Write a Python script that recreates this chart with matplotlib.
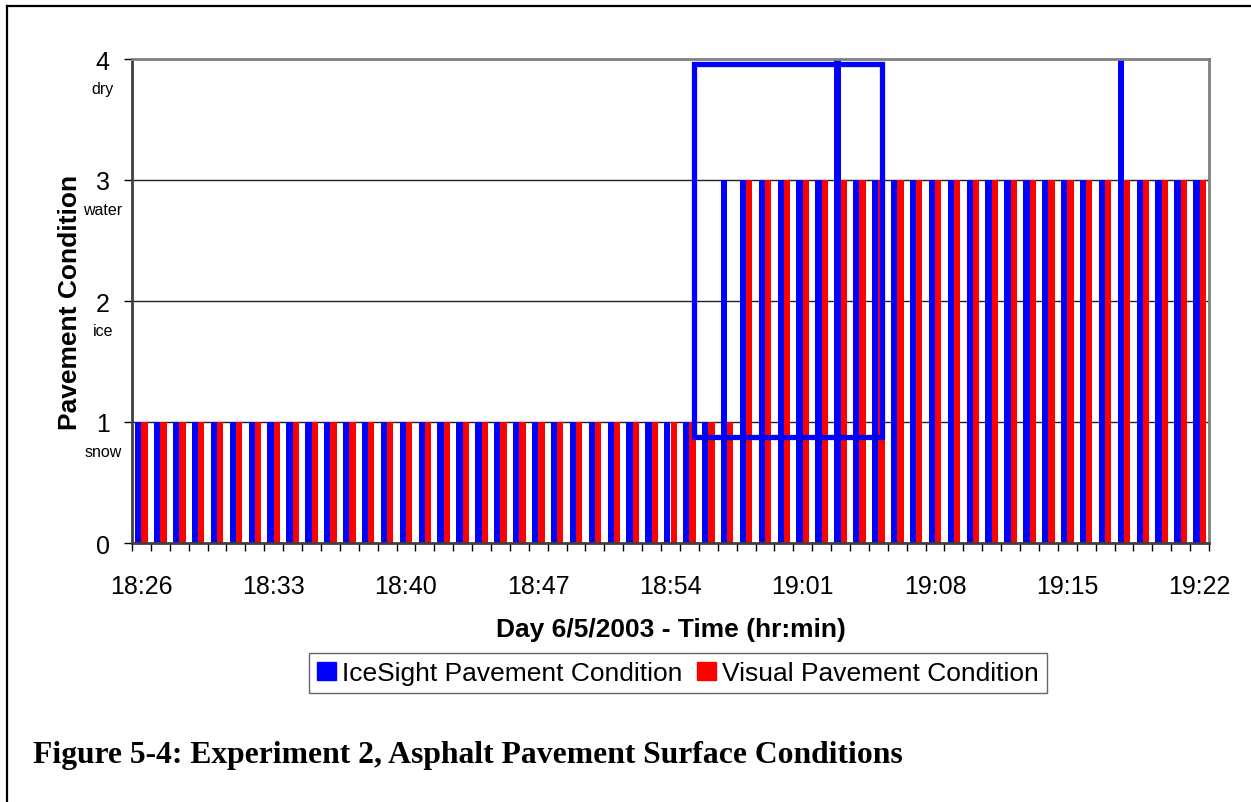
import matplotlib
matplotlib.use("Agg")
import matplotlib.pyplot as plt
from matplotlib.patches import Rectangle, Patch
from matplotlib.lines import Line2D

# Minute-by-minute observations, 18:26 - 19:22
start_hour, start_min, n_minutes = 18, 26, 57
times = [f"{(start_hour * 60 + start_min + i) // 60}:{(start_hour * 60 + start_min + i) % 60:02d}"
         for i in range(n_minutes)]

icesight = [1] * 31 + [3] * 26
icesight[37] = 4
icesight[52] = 4
visual = [1] * 32 + [3] * 25

condition_ticks = [0, 1, 2, 3, 4]
condition_names = {1: "snow", 2: "ice", 3: "water", 4: "dry"}
label_every = 7

plt.rcParams["font.family"] = ["Liberation Sans", "DejaVu Sans"]

W, H = 1251, 803
fig = plt.figure(figsize=(W / 100, H / 100), dpi=100)
ax = fig.add_axes([132 / W, 1 - 544 / H, (1209 - 132) / W, (544 - 60) / H])

x = list(range(n_minutes))
bw = 1 / 3
ax.bar([i - bw / 2 for i in x], icesight, width=bw, color="#0000FF", zorder=2,
       label="IceSight Pavement Condition")
ax.bar([i + bw / 2 for i in x], visual, width=bw, color="#FF0000", zorder=2,
       label="Visual Pavement Condition")

ax.set_xlim(-0.5, n_minutes - 0.5)
ax.set_ylim(0, 4)

# horizontal gridlines
for v in condition_ticks[1:-1]:
    ax.axhline(v, color="#202020", lw=1.0, zorder=1)

# x ticks at category boundaries, labels every 7 minutes
ax.set_xticks([i - 0.5 for i in range(n_minutes + 1)], minor=True)
ax.tick_params(axis="x", which="minor", length=6, width=1, color="#000000", direction="out")
ax.set_xticks(x[::label_every])
ax.set_xticklabels(times[::label_every], fontsize=18)
ax.tick_params(axis="x", which="major", length=0, pad=22)

ax.set_yticks(condition_ticks)
ax.set_yticklabels([str(v) for v in condition_ticks], fontsize=18)
ax.tick_params(axis="y", length=6, width=1, pad=10)
for v, name in condition_names.items():
    ax.annotate(name, xy=(0, v), xycoords=("axes fraction", "data"),
                xytext=(-21, -21), textcoords="offset points",
                ha="center", va="center", fontsize=11.5)

for side in ("left", "bottom"):
    ax.spines[side].set_color("#404040")
    ax.spines[side].set_linewidth(2)
for side in ("top", "right"):
    ax.spines[side].set_color("#808080")
    ax.spines[side].set_linewidth(2)

ax.set_ylabel("Pavement Condition", fontsize=19, fontweight="bold", labelpad=10)
ax.set_xlabel("Day 6/5/2003 - Time (hr:min)", fontsize=19, fontweight="bold", labelpad=14)

# highlight box around the transition period
ax.add_patch(Rectangle((29.27, 0.872), 39.17 - 29.27, 3.955 - 0.872, fill=False,
                       edgecolor="#0000FF", lw=3.8, zorder=3))

handles = [Patch(color="#0000FF"), Patch(color="#FF0000")]
leg = fig.legend(handles, ["IceSight Pavement Condition", "Visual Pavement Condition"],
                 loc="center", bbox_to_anchor=(678 / W, 1 - 674 / H), ncol=2,
                 fontsize=19, frameon=True, fancybox=False, edgecolor="#404040",
                 handlelength=0.7, handleheight=0.7, handletextpad=0.25,
                 columnspacing=0.55, borderpad=0.3, borderaxespad=0)
leg.get_frame().set_linewidth(1)

fig.text(33 / W, 1 - 756 / H, "Figure 5-4: Experiment 2, Asphalt Pavement Surface Conditions",
         fontsize=22.8, fontweight="bold", family=["Liberation Serif", "DejaVu Serif"],
         ha="left", va="center")

# page frame
fig.add_artist(Line2D([7 / W, 1], [1 - 7 / H, 1 - 7 / H], color="black", lw=1.6,
                      transform=fig.transFigure))
fig.add_artist(Line2D([7 / W, 7 / W], [0, 1 - 7 / H], color="black", lw=1.6,
                      transform=fig.transFigure))

fig.savefig("out.png", dpi=100, facecolor="white")
